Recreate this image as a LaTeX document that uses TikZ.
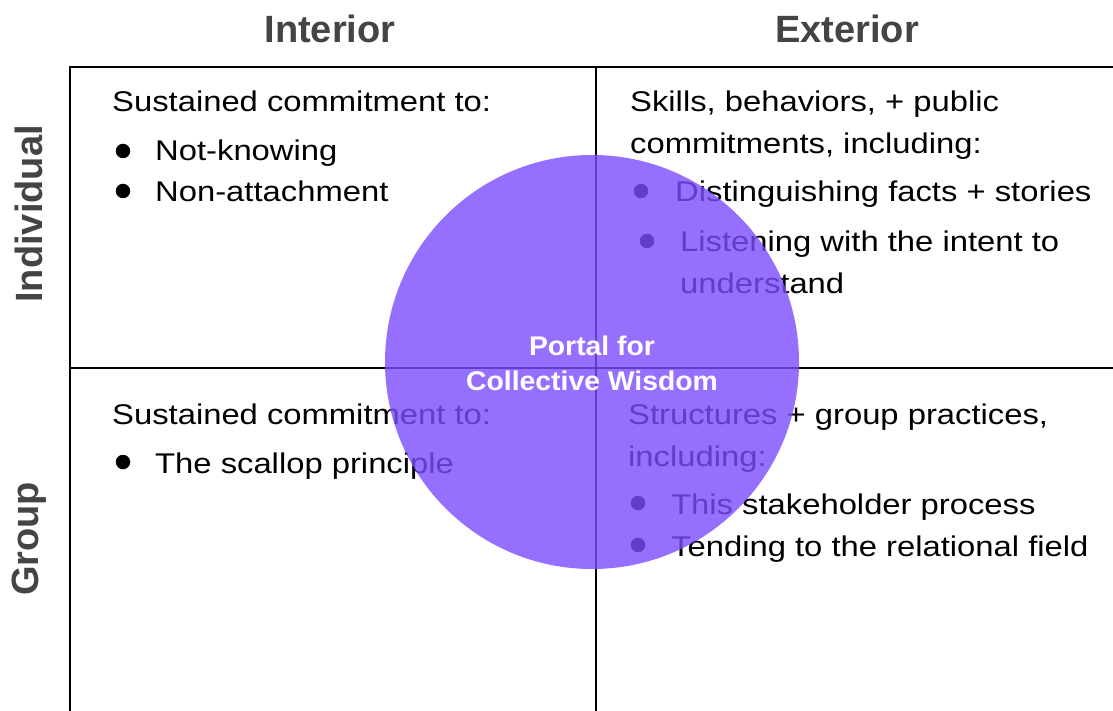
\documentclass[tikz,border=0pt]{standalone}
\usepackage{fontspec}
\setmainfont{Liberation Sans}[FakeStretch=1.15]
\newfontfamily\headfont{Liberation Sans}
\newfontfamily\portalfont{Liberation Sans}[FakeStretch=1.05]
\definecolor{portal}{RGB}{125,75,255}
\definecolor{headc}{RGB}{68,68,68}
\begin{document}
\begin{tikzpicture}[x=1pt,y=-1pt,
  body/.style={anchor=base west, inner sep=0pt, text=black, font=\fontsize{28.5}{42}\selectfont},
  heading/.style={inner sep=0pt, text=headc, font=\headfont\fontsize{38}{40}\selectfont\bfseries},
  dot/.style={circle, fill=black, inner sep=0pt, minimum size=14.5pt},
  grid/.style={line width=2pt, black},
  portaltext/.style={inner sep=0pt, text=white, font=\portalfont\fontsize{27}{30}\selectfont\bfseries, anchor=base}]
\useasboundingbox (0,0) rectangle (1113,711);
\fill[white] (0,0) rectangle (1113,711);
% grid coordinates
\coordinate (tl) at (70,67.5);
\coordinate (tr) at (1113,67.5);
\coordinate (bl) at (70,711);
\coordinate (mt) at (596,67.5);
\coordinate (mb) at (596,711);
\coordinate (ml) at (70,368);
\coordinate (mr) at (1113,368);
\draw[grid] (tr) -- (tl) -- (bl);
\draw[grid] (mt) -- (mb);
\draw[grid] (ml) -- (mr);
% headings
\node[heading] (interior) at (330,29) {Interior};
\node[heading] (exterior) at (847,29) {Exterior};
\node[heading, rotate=90] (individual) at (29,214) {Individual};
\node[heading, rotate=90] (group) at (29,539) {Group};
% top-left
\node[body] (tl1) at (112,112) {Sustained commitment to:};
\node[dot] (tlb1) at (123,151) {};
\node[body] (tl2) at (155,161) {Not-knowing};
\node[dot] (tlb2) at (123,191) {};
\node[body] (tl3) at (155,202) {Non-attachment};
% top-right
\node[body] (tr1) at (630,112) {Skills, behaviors, + public};
\node[body] (tr2) at (630,154) {commitments, including:};
\node[dot] (trb1) at (641,191) {};
\node[body] (tr3) at (675,202) {Distinguishing facts + stories};
\node[dot] (trb2) at (647,241) {};
\node[body] (tr4) at (680,252) {Listening with the intent to};
\node[body] (tr5) at (680,294) {understand};
% bottom-left
\node[body] (bl1) at (112,424) {Sustained commitment to:};
\node[dot] (blb1) at (123,462) {};
\node[body] (bl2) at (155,473) {The scallop principle};
% bottom-right
\node[body] (br1) at (628,424) {Structures + group practices,};
\node[body] (br2) at (628,466) {including:};
\node[dot] (brb1) at (638,503) {};
\node[body] (br3) at (671,514) {This stakeholder process};
\node[dot] (brb2) at (638,545) {};
\node[body] (br4) at (671,556) {Tending to the relational field};
% portal circle
\fill[portal, fill opacity=0.8] (592,362) circle[radius=207];
\node[portaltext] (p1) at (592,355) {Portal for};
\node[portaltext] (p2) at (592,390) {Collective Wisdom};
\end{tikzpicture}
\end{document}
